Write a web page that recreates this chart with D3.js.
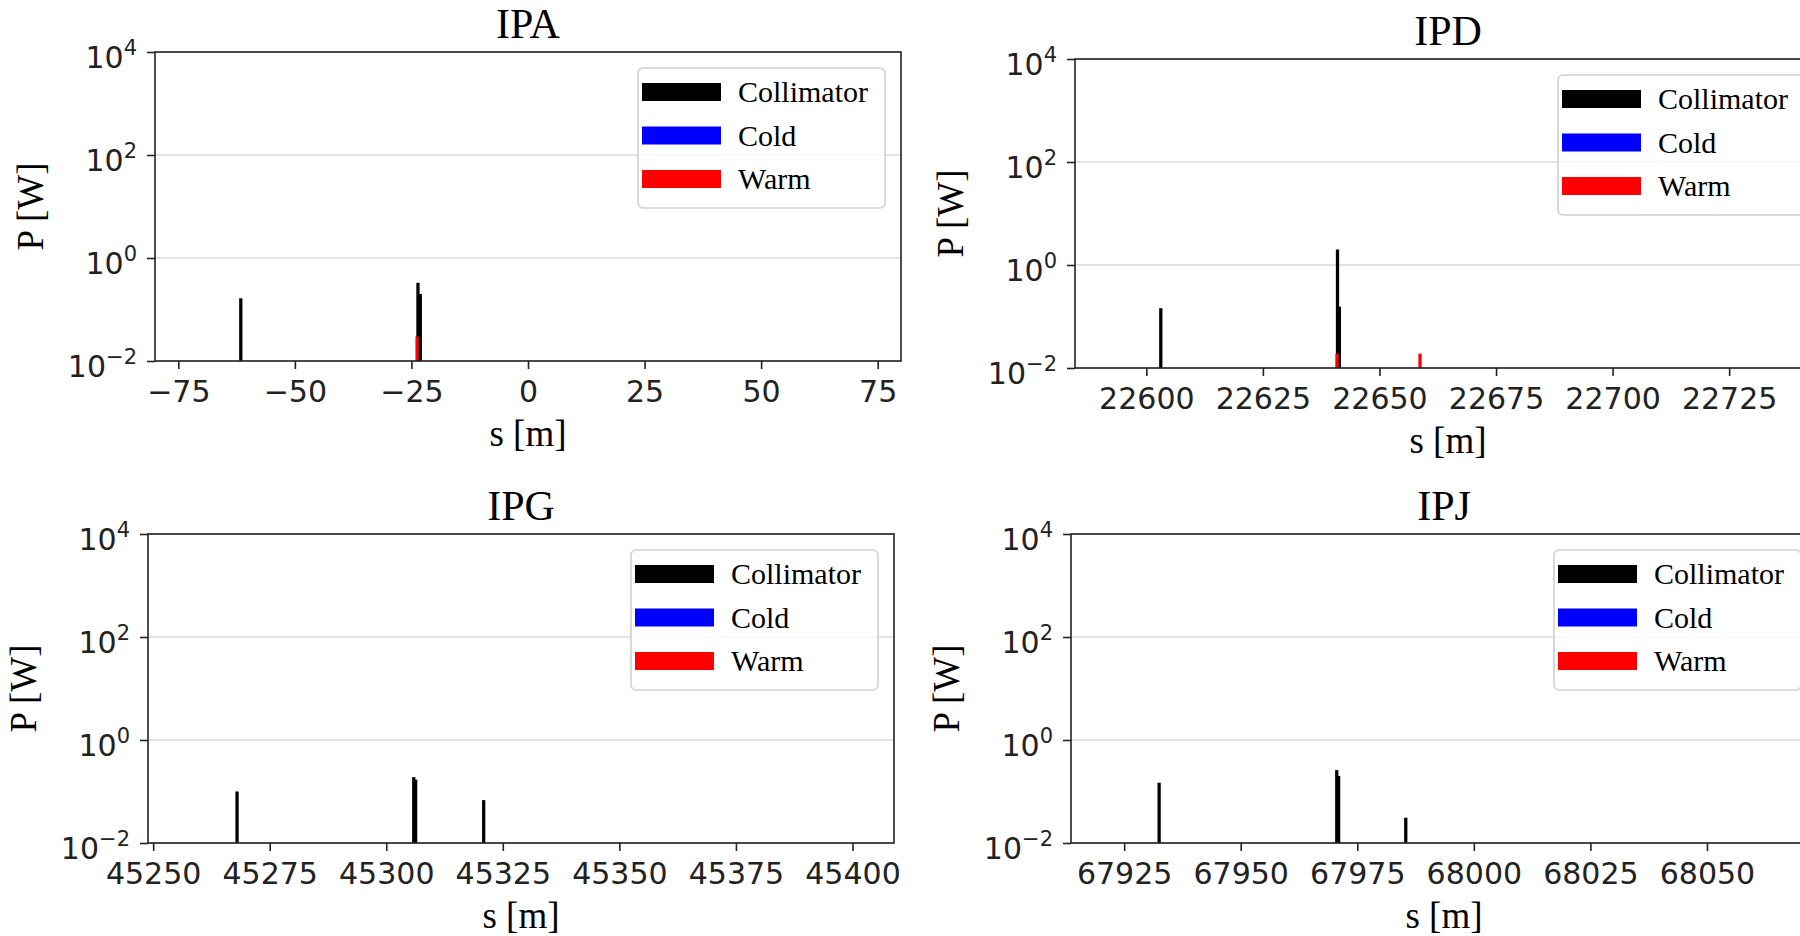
<!DOCTYPE html>
<html>
<head>
<meta charset="utf-8">
<script src="https://cdn.jsdelivr.net/npm/d3@7"></script>
<style>
  html, body { margin: 0; padding: 0; background: #fff; overflow: hidden; }
  svg { display: block; }
</style>
</head>
<body>
<script>
// ---------------- DATA ----------------
const panelTitles = ["IPA", "IPD", "IPG", "IPJ"];
const xDomains = [[-80, 80], [22584.7, 22744.7], [45248.9, 45408.9], [67913.6, 68073.6]];
const xTickValues = [
  [-75, -50, -25, 0, 25, 50, 75],
  [22600, 22625, 22650, 22675, 22700, 22725],
  [45250, 45275, 45300, 45325, 45350, 45375, 45400],
  [67925, 67950, 67975, 68000, 68025, 68050]
];
const yDomain = [1e-2, 1e4];
const yTickValues = [1e-2, 1e0, 1e2, 1e4];
const yTickExponents = ["\u22122", "0", "2", "4"];
const legendLabels = ["Collimator", "Cold", "Warm"];

// Collimator losses: s [m], P [W]
const collimatorS = [
  [-61.6, -23.6, -23.1],
  [22603.1, 22641.0, 22641.4],
  [45268.0, 45305.9, 45306.3, 45320.9],
  [67932.5, 67970.6, 67971.0, 67985.4]
];
const collimatorP = [
  [0.165, 0.33, 0.20],
  [0.145, 2.0, 0.155],
  [0.10, 0.19, 0.17, 0.068],
  [0.148, 0.26, 0.20, 0.031]
];
// Cold losses (none visible)
const coldS = [[], [], [], []];
const coldP = [[], [], [], []];
// Warm losses
const warmS = [
  [-23.8],
  [22640.9, 22658.7],
  [],
  []
];
const warmP = [
  [0.03],
  [0.019, 0.019],
  [],
  []
];

// ---------------- LAYOUT ----------------
const W = 1800, H = 936;
const axW = 746, axH = 309;
const axOrigins = [[155, 52], [1075, 59], [148, 534], [1071, 534]];
const barWidth = 0.7;
const colors = { Collimator: "#000000", Cold: "#0000ff", Warm: "#ff0000" };
const serif = "'Liberation Serif', 'Times New Roman', serif";
const sans = "'DejaVu Sans', sans-serif";

const svg = d3.select("body").append("svg")
  .attr("width", W).attr("height", H)
  .attr("viewBox", `0 0 ${W} ${H}`);

panelTitles.forEach((title, i) => {
  const [x0, y0] = axOrigins[i];
  const g = svg.append("g").attr("transform", `translate(${x0},${y0})`);

  const x = d3.scaleLinear().domain(xDomains[i]).range([0, axW]);
  const y = d3.scaleLog().domain(yDomain).range([axH, 0]);

  const clipId = "clip" + i;
  g.append("clipPath").attr("id", clipId)
    .append("rect").attr("x", 0).attr("y", 0).attr("width", axW).attr("height", axH);

  // grid
  g.append("g").selectAll("line").data(yTickValues).join("line")
    .attr("x1", 0).attr("x2", axW)
    .attr("y1", d => y(d)).attr("y2", d => y(d))
    .attr("stroke", "#dadada").attr("stroke-width", 1.6);

  // bars
  const plot = g.append("g").attr("clip-path", `url(#${clipId})`);
  const series = [
    { name: "Collimator", s: collimatorS[i], p: collimatorP[i] },
    { name: "Cold", s: coldS[i], p: coldP[i] },
    { name: "Warm", s: warmS[i], p: warmP[i] }
  ];
  series.forEach(ser => {
    const data = ser.s.map((s, k) => ({ s, p: ser.p[k] }));
    plot.append("g").selectAll("rect").data(data).join("rect")
      .attr("x", d => x(d.s - barWidth / 2))
      .attr("width", d => x(d.s + barWidth / 2) - x(d.s - barWidth / 2))
      .attr("y", d => y(d.p))
      .attr("height", d => y(yDomain[0]) - y(d.p))
      .attr("fill", colors[ser.name]);
  });

  // x axis
  const xAxis = d3.axisBottom(x).tickValues(xTickValues[i])
    .tickSize(8).tickPadding(10).tickFormat(d3.format(""));
  const gx = g.append("g").attr("transform", `translate(0,${axH})`).call(xAxis);
  gx.select(".domain").remove();
  gx.selectAll(".tick line").attr("stroke", "#222").attr("stroke-width", 1.6);
  gx.selectAll(".tick text").attr("font-family", sans).attr("font-size", 30)
    .attr("fill", "#222").attr("dy", "0.78em");

  // y axis
  const yAxis = d3.axisLeft(y).tickValues(yTickValues).tickSize(8).tickFormat(() => "");
  const gy = g.append("g").call(yAxis);
  gy.select(".domain").remove();
  gy.selectAll(".tick line").attr("stroke", "#222").attr("stroke-width", 1.6);
  gy.selectAll(".tick").each(function(d, k) {
    const t = d3.select(this).select("text")
      .attr("x", -18).attr("dy", null).attr("y", 15)
      .attr("text-anchor", "end")
      .attr("font-family", sans).attr("font-size", 30).attr("fill", "#222");
    t.text(null);
    t.append("tspan").text("10");
    t.append("tspan").attr("font-size", 21).attr("dy", -13).text(yTickExponents[k]);
  });

  // frame (spines)
  g.append("rect").attr("x", 0).attr("y", 0).attr("width", axW).attr("height", axH)
    .attr("fill", "none").attr("stroke", "#222").attr("stroke-width", 1.6);

  // title
  g.append("text").attr("x", axW / 2).attr("y", -14)
    .attr("text-anchor", "middle").attr("font-family", serif).attr("font-size", 42)
    .attr("fill", "#000").text(title);

  // axis labels
  g.append("text").attr("x", axW / 2).attr("y", axH + 85)
    .attr("text-anchor", "middle").attr("font-family", serif).attr("font-size", 37)
    .attr("fill", "#000").text("s [m]");
  g.append("text")
    .attr("transform", `translate(${-112},${axH / 2}) rotate(-90)`)
    .attr("text-anchor", "middle").attr("font-family", serif).attr("font-size", 37)
    .attr("fill", "#000").text("P [W]");

  // legend
  const lw = 247, lh = 140;
  const lg = g.append("g").attr("transform", `translate(${axW - 16 - lw},16)`);
  lg.append("rect").attr("width", lw).attr("height", lh).attr("rx", 5)
    .attr("fill", "#fff").attr("fill-opacity", 0.8)
    .attr("stroke", "#d0d0d0").attr("stroke-width", 1.6);
  legendLabels.forEach((lab, k) => {
    lg.append("rect").attr("x", 4).attr("y", 15 + k * 43.5).attr("width", 79).attr("height", 18)
      .attr("fill", colors[lab]);
    lg.append("text").attr("x", 100).attr("y", 34 + k * 43.5)
      .attr("font-family", serif).attr("font-size", 30).attr("fill", "#000").text(lab);
  });
});
</script>
</body>
</html>
